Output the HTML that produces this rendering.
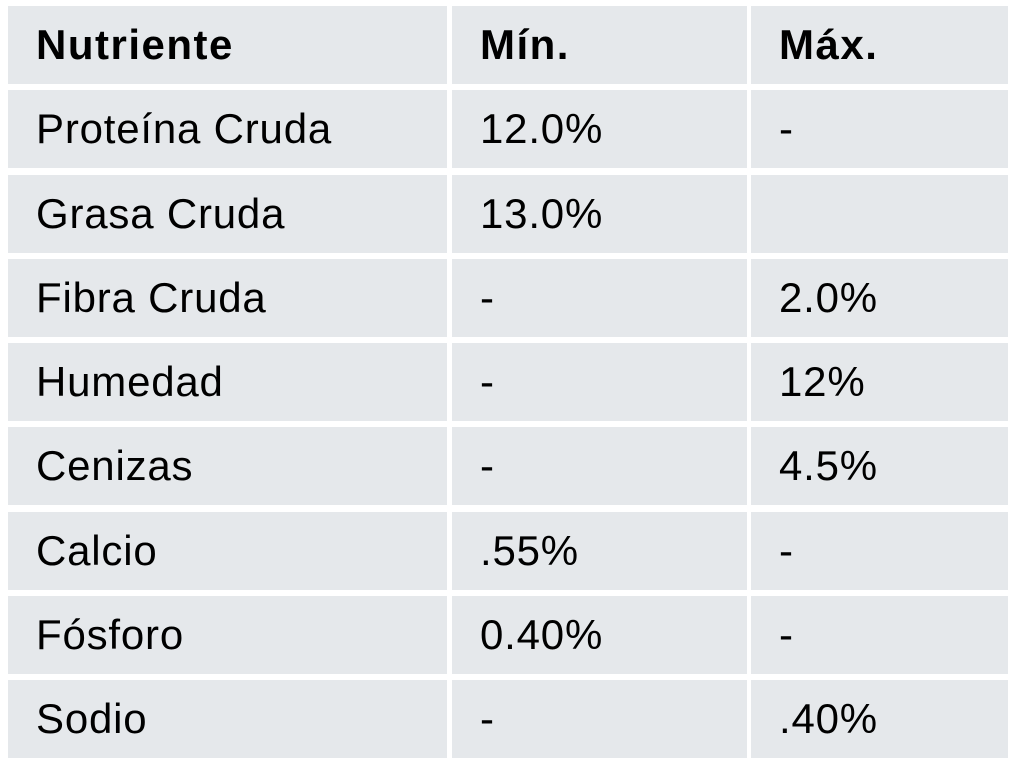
<!DOCTYPE html>
<html><head><meta charset="utf-8"><style>
html,body{margin:0;padding:0;background:#fff;width:1022px;height:779px;overflow:hidden}
.c{position:absolute;background:#e5e8eb;font-family:"Liberation Sans",sans-serif;font-size:42px;letter-spacing:0.8px;color:#000;display:flex;align-items:center;padding-left:28px;box-sizing:border-box;height:78px}
.h{font-weight:bold;letter-spacing:1.5px}
</style></head><body>
<div id="t"></div>
<script>
var rows=[["Nutriente","Mín.","Máx."],["Proteína Cruda","12.0%","-"],["Grasa Cruda","13.0%",""],["Fibra Cruda","-","2.0%"],["Humedad","-","12%"],["Cenizas","-","4.5%"],["Calcio",".55%","-"],["Fósforo","0.40%","-"],["Sodio","-",".40%"]];
var xs=[[8,439],[452,295],[751,257]];var h="";
rows.forEach(function(r,i){var y=6+i*84.25;r.forEach(function(v,j){h+='<div class="c'+(i==0?' h':'')+'" style="left:'+xs[j][0]+'px;top:'+y+'px;width:'+xs[j][1]+'px">'+v+'</div>';});});
document.getElementById("t").innerHTML=h;
</script>
</body></html>
